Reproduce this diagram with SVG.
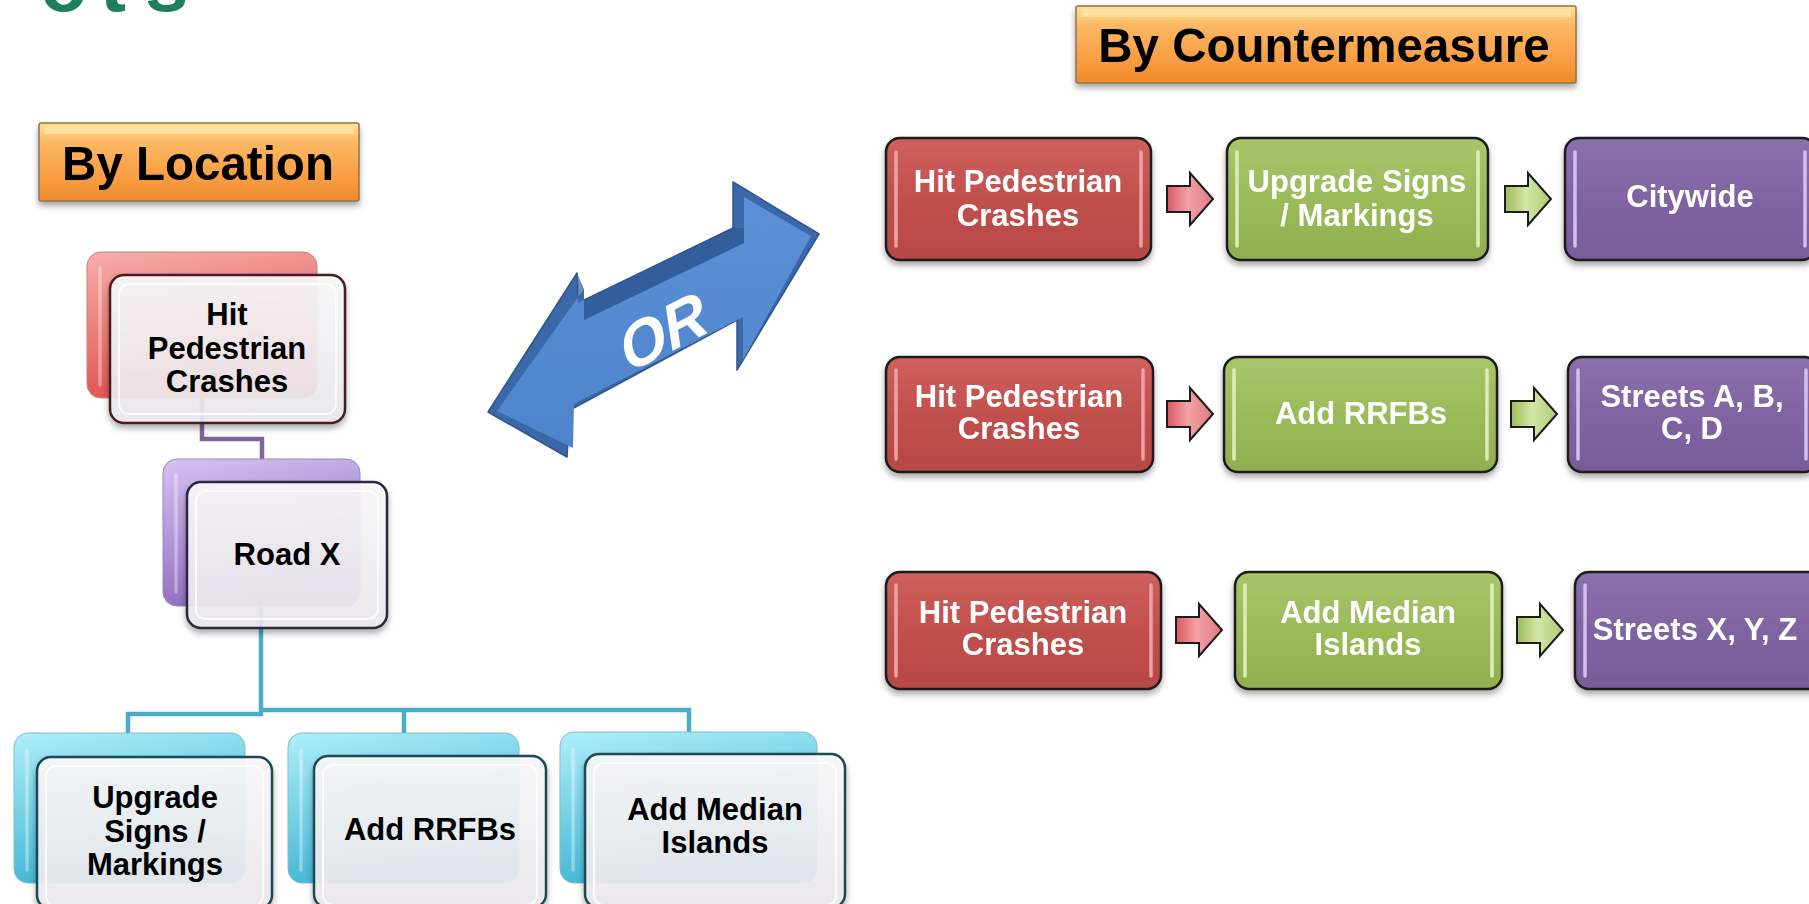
<svg xmlns="http://www.w3.org/2000/svg" width="1809" height="904" viewBox="0 0 1809 904">
<defs>
<style>
.t{font-family:"Liberation Sans",Arial,Helvetica,sans-serif;font-weight:bold;font-size:31px;text-anchor:middle}
.w{fill:#ffffff}
.k{fill:#000000}
.box{stroke:#1c1c1c;stroke-width:2.5}
.hl{fill:none;stroke-width:3.5;stroke-linecap:round}
.conP{fill:none;stroke:#8064A2;stroke-width:4.5}
.conC{fill:none;stroke:#4BACC6;stroke-width:4.5}
.front{fill:url(#gFront);fill-opacity:0.9;stroke-width:2.5}
.inner{fill:none;stroke:#ffffff;stroke-width:2;stroke-opacity:0.8}
.hdr{fill:url(#gHdr);stroke:#8E7450;stroke-width:1.5}
.ht{font-family:"Liberation Sans",Arial,Helvetica,sans-serif;font-weight:bold;font-size:47.5px;text-anchor:middle;fill:#000}
</style>
<filter id="sh" x="-10%" y="-10%" width="120%" height="135%"><feDropShadow dx="0" dy="4" stdDeviation="3" flood-color="#000" flood-opacity="0.35"/></filter>
<linearGradient id="gHdr" x1="0" y1="0" x2="0" y2="1"><stop offset="0" stop-color="#FFE08F"/><stop offset="0.25" stop-color="#FCB865"/><stop offset="0.75" stop-color="#F89A3E"/><stop offset="1" stop-color="#EE8A2A"/></linearGradient>
<linearGradient id="gRed" x1="0" y1="0" x2="0" y2="1"><stop offset="0" stop-color="#CF605D"/><stop offset="0.5" stop-color="#C0504D"/><stop offset="1" stop-color="#B64845"/></linearGradient>
<linearGradient id="gGreen" x1="0" y1="0" x2="0" y2="1"><stop offset="0" stop-color="#A9C56C"/><stop offset="0.5" stop-color="#9BBB59"/><stop offset="1" stop-color="#90AF4F"/></linearGradient>
<linearGradient id="gPurple" x1="0" y1="0" x2="0" y2="1"><stop offset="0" stop-color="#8B70AC"/><stop offset="0.5" stop-color="#8064A2"/><stop offset="1" stop-color="#775C98"/></linearGradient>
<linearGradient id="gArrR" x1="0" y1="0" x2="1" y2="0"><stop offset="0" stop-color="#D9575E"/><stop offset="0.45" stop-color="#F2A2A6"/><stop offset="1" stop-color="#E07A80"/></linearGradient>
<linearGradient id="gArrG" x1="0" y1="0" x2="1" y2="0"><stop offset="0" stop-color="#9BBB59"/><stop offset="0.45" stop-color="#D3E6A6"/><stop offset="1" stop-color="#AECB76"/></linearGradient>
<linearGradient id="gBRed" x1="0" y1="0" x2="0.3" y2="1"><stop offset="0" stop-color="#F8AEAB"/><stop offset="1" stop-color="#E0504D"/></linearGradient>
<linearGradient id="gBPur" x1="0" y1="0" x2="0.3" y2="1"><stop offset="0" stop-color="#D6C2F2"/><stop offset="1" stop-color="#8E6CC0"/></linearGradient>
<linearGradient id="gBCy" x1="0" y1="0" x2="0.3" y2="1"><stop offset="0" stop-color="#AEEEF9"/><stop offset="1" stop-color="#3FB5D3"/></linearGradient>
<linearGradient id="gFront" x1="0" y1="0" x2="0" y2="1"><stop offset="0" stop-color="#FBFAFB"/><stop offset="1" stop-color="#ECEAEE"/></linearGradient>
<linearGradient id="gOR" x1="0" y1="0" x2="0" y2="1"><stop offset="0" stop-color="#5C90D6"/><stop offset="1" stop-color="#4E84CC"/></linearGradient>
<path id="arr" d="M0,-13 H23 V-26 L46,0 L23,26 V13 H0 Z"/>
</defs>

<rect x="0" y="0" width="1809" height="904" fill="#ffffff"/>

<!-- partially visible title at top-left -->
<text x="40 100 145" y="11" font-family="'Liberation Sans',Arial,sans-serif" font-weight="bold" font-size="78" fill="#1E7F5C">ots</text>

<!-- headers -->
<g id="hdr-location" filter="url(#sh)">
<rect class="hdr" x="39" y="123" width="320" height="78" rx="2"/>
<rect x="44" y="126" width="310" height="8" fill="#FFF2C0" opacity="0.5"/>
<text class="ht" x="198" y="180">By Location</text>
</g>
<g id="hdr-countermeasure" filter="url(#sh)">
<rect class="hdr" x="1076" y="6" width="500" height="77" rx="2"/>
<rect x="1081" y="9" width="490" height="8" fill="#FFF2C0" opacity="0.5"/>
<text class="ht" x="1324" y="62">By Countermeasure</text>
</g>

<!-- connectors (left hierarchy) -->
<g id="connectors">
<path class="conP" d="M202,398 V439 H262 V459"/>
<path class="conC" d="M261,606 V714 H128 V733"/>
<path class="conC" d="M261,710 H689 V733"/>
<path class="conC" d="M404,710 V733"/>
</g>

<!-- left: hierarchy nodes -->
<g id="loc-hit">
<rect x="87" y="252" width="230" height="146" rx="14" fill="url(#gBRed)" stroke="#C9807E" stroke-width="1"/>
<line class="hl" x1="100" y1="268" x2="100" y2="385" stroke="#FFFFFF" stroke-opacity="0.35"/>
<g filter="url(#sh)"><rect class="front" x="110" y="275" width="235" height="148" rx="14" stroke="#4A1F22"/></g>
<rect class="inner" x="119" y="284" width="217" height="130" rx="10"/>
<text class="t k" x="227" y="325">Hit</text>
<text class="t k" x="227" y="359">Pedestrian</text>
<text class="t k" x="227" y="392">Crashes</text>
</g>

<g id="loc-roadx">
<rect x="163" y="459" width="197" height="147" rx="14" fill="url(#gBPur)" stroke="#9A86B8" stroke-width="1"/>
<line class="hl" x1="176" y1="475" x2="176" y2="592" stroke="#FFFFFF" stroke-opacity="0.35"/>
<g filter="url(#sh)"><rect class="front" x="187" y="482" width="200" height="146" rx="14" stroke="#2E2540"/></g>
<rect class="inner" x="196" y="491" width="182" height="128" rx="10"/>
<text class="t k" x="287" y="565">Road X</text>
</g>

<g id="loc-signs">
<rect x="14" y="733" width="231" height="150" rx="14" fill="url(#gBCy)" stroke="#7FBFCF" stroke-width="1"/>
<line class="hl" x1="27" y1="750" x2="27" y2="870" stroke="#FFFFFF" stroke-opacity="0.35"/>
<g filter="url(#sh)"><rect class="front" x="37" y="757" width="235" height="152" rx="14" stroke="#1E4A55"/></g>
<rect class="inner" x="46" y="766" width="217" height="140" rx="10"/>
<text class="t k" x="155" y="808">Upgrade</text>
<text class="t k" x="155" y="842">Signs /</text>
<text class="t k" x="155" y="875">Markings</text>
</g>

<g id="loc-rrfb">
<rect x="288" y="733" width="231" height="150" rx="14" fill="url(#gBCy)" stroke="#7FBFCF" stroke-width="1"/>
<line class="hl" x1="301" y1="750" x2="301" y2="870" stroke="#FFFFFF" stroke-opacity="0.35"/>
<g filter="url(#sh)"><rect class="front" x="314" y="756" width="232" height="152" rx="14" stroke="#1E4A55"/></g>
<rect class="inner" x="323" y="765" width="214" height="140" rx="10"/>
<text class="t k" x="430" y="840">Add RRFBs</text>
</g>

<g id="loc-median">
<rect x="560" y="732" width="257" height="151" rx="14" fill="url(#gBCy)" stroke="#7FBFCF" stroke-width="1"/>
<line class="hl" x1="573" y1="749" x2="573" y2="870" stroke="#FFFFFF" stroke-opacity="0.35"/>
<g filter="url(#sh)"><rect class="front" x="585" y="754" width="260" height="154" rx="14" stroke="#1E4A55"/></g>
<rect class="inner" x="594" y="763" width="242" height="142" rx="10"/>
<text class="t k" x="715" y="820">Add Median</text>
<text class="t k" x="715" y="853">Islands</text>
</g>

<!-- OR double arrow -->
<g id="or-arrow">
<polygon points="733,182 819,234 737,370 737,320 570,410 567,457 488,412 577,273 578,303 733,228" fill="#3A68A8" stroke="#2F5690" stroke-width="1.5" stroke-linejoin="round"/>
<polygon points="744,197 811,236 743,360 743,317 574,404 573,448 497,411 584,289 584,320 744,243" fill="url(#gOR)"/>
<polygon points="584,289 584,320 744,243 744,197 744,228 733,228 578,303 577,273" fill="#2F5A96" opacity="0.7"/>
<text x="0" y="21" transform="translate(663,332) rotate(-27) skewX(-8)" font-family="'Liberation Sans',Arial,sans-serif" font-weight="bold" font-style="italic" font-size="62" fill="#ffffff" text-anchor="middle">OR</text>
</g>

<!-- right: row 1 -->
<g id="r1-crash" filter="url(#sh)">
<rect class="box" x="886" y="138" width="265" height="122" rx="14" fill="url(#gRed)"/>
<line class="hl" x1="896" y1="152" x2="896" y2="246" stroke="#EBA3A1"/>
<line class="hl" x1="1141" y1="152" x2="1141" y2="246" stroke="#EBA3A1"/>
<text class="t w" x="1018" y="192">Hit Pedestrian</text>
<text class="t w" x="1018" y="226">Crashes</text>
</g>
<g id="r1-signs" filter="url(#sh)">
<rect class="box" x="1227" y="138" width="261" height="122" rx="14" fill="url(#gGreen)"/>
<line class="hl" x1="1237" y1="152" x2="1237" y2="246" stroke="#DDECB8"/>
<line class="hl" x1="1478" y1="152" x2="1478" y2="246" stroke="#DDECB8"/>
<text class="t w" x="1357" y="192">Upgrade Signs</text>
<text class="t w" x="1357" y="226">/ Markings</text>
</g>
<g id="r1-citywide" filter="url(#sh)">
<rect class="box" x="1565" y="138" width="251" height="122" rx="14" fill="url(#gPurple)"/>
<line class="hl" x1="1575" y1="152" x2="1575" y2="246" stroke="#D2BFF0"/>
<line class="hl" x1="1805" y1="152" x2="1805" y2="246" stroke="#D2BFF0"/>
<text class="t w" x="1690" y="207">Citywide</text>
</g>

<!-- right: row 2 -->
<g id="r2-crash" filter="url(#sh)">
<rect class="box" x="886" y="357" width="267" height="115" rx="14" fill="url(#gRed)"/>
<line class="hl" x1="896" y1="370" x2="896" y2="459" stroke="#EBA3A1"/>
<line class="hl" x1="1143" y1="370" x2="1143" y2="459" stroke="#EBA3A1"/>
<text class="t w" x="1019" y="407">Hit Pedestrian</text>
<text class="t w" x="1019" y="439">Crashes</text>
</g>
<g id="r2-rrfb" filter="url(#sh)">
<rect class="box" x="1224" y="357" width="273" height="115" rx="14" fill="url(#gGreen)"/>
<line class="hl" x1="1234" y1="370" x2="1234" y2="459" stroke="#DDECB8"/>
<line class="hl" x1="1487" y1="370" x2="1487" y2="459" stroke="#DDECB8"/>
<text class="t w" x="1361" y="424">Add RRFBs</text>
</g>
<g id="r2-streets" filter="url(#sh)">
<rect class="box" x="1568" y="357" width="250" height="115" rx="14" fill="url(#gPurple)"/>
<line class="hl" x1="1578" y1="370" x2="1578" y2="459" stroke="#D2BFF0"/>
<line class="hl" x1="1806" y1="370" x2="1806" y2="459" stroke="#D2BFF0"/>
<text class="t w" x="1692" y="407">Streets A, B,</text>
<text class="t w" x="1692" y="439">C, D</text>
</g>

<!-- right: row 3 -->
<g id="r3-crash" filter="url(#sh)">
<rect class="box" x="886" y="572" width="275" height="117" rx="14" fill="url(#gRed)"/>
<line class="hl" x1="896" y1="585" x2="896" y2="676" stroke="#EBA3A1"/>
<line class="hl" x1="1151" y1="585" x2="1151" y2="676" stroke="#EBA3A1"/>
<text class="t w" x="1023" y="623">Hit Pedestrian</text>
<text class="t w" x="1023" y="655">Crashes</text>
</g>
<g id="r3-median" filter="url(#sh)">
<rect class="box" x="1235" y="572" width="267" height="117" rx="14" fill="url(#gGreen)"/>
<line class="hl" x1="1245" y1="585" x2="1245" y2="676" stroke="#DDECB8"/>
<line class="hl" x1="1492" y1="585" x2="1492" y2="676" stroke="#DDECB8"/>
<text class="t w" x="1368" y="623">Add Median</text>
<text class="t w" x="1368" y="655">Islands</text>
</g>
<g id="r3-streets" filter="url(#sh)">
<rect class="box" x="1575" y="572" width="250" height="117" rx="14" fill="url(#gPurple)"/>
<line class="hl" x1="1585" y1="585" x2="1585" y2="676" stroke="#D2BFF0"/>
<text class="t w" x="1695" y="640">Streets X, Y, Z</text>
</g>

<!-- right: flow arrows -->
<g id="flow-arrows" stroke="#1c1c1c" stroke-width="2" stroke-linejoin="miter">
<use href="#arr" transform="translate(1167,199)" fill="url(#gArrR)"/>
<use href="#arr" transform="translate(1505,199)" fill="url(#gArrG)"/>
<use href="#arr" transform="translate(1167,414)" fill="url(#gArrR)"/>
<use href="#arr" transform="translate(1511,414)" fill="url(#gArrG)"/>
<use href="#arr" transform="translate(1176,630)" fill="url(#gArrR)"/>
<use href="#arr" transform="translate(1517,630)" fill="url(#gArrG)"/>
</g>
</svg>
